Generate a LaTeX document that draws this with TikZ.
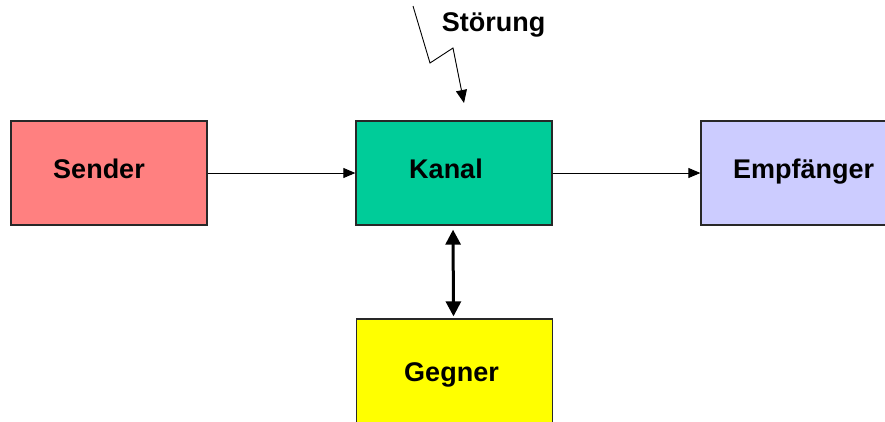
\documentclass[tikz,border=0pt]{standalone}
\usepackage{fontspec}
\setmainfont{Liberation Sans}
\usetikzlibrary{arrows.meta}
\definecolor{senderred}{RGB}{255,128,128}
\definecolor{kanalgreen}{RGB}{0,204,153}
\definecolor{empfblue}{RGB}{204,204,255}
\definecolor{gegneryellow}{RGB}{255,255,0}
\definecolor{boxline}{RGB}{40,40,40}
\tikzset{
  block/.style={draw=boxline, line width=1.3pt, minimum width=196pt, minimum height=104pt, inner sep=0pt},
  lbl/.style={font=\fontsize{27}{31}\selectfont\bfseries, text=black, inner sep=0pt, anchor=base},
  thinarrow/.style={line width=0.9pt, -{Triangle[length=12pt,width=10pt]}},
  thickarrow/.style={line width=3pt, {Triangle[length=15pt,width=15pt]}-{Triangle[length=15pt,width=15pt]}},
}
\begin{document}
\begin{tikzpicture}[x=1pt,y=-1pt]
\useasboundingbox (0,0) rectangle (885,421);
\clip (0,0) rectangle (885,421);
% blocks
\node[block, fill=senderred] (sender) at (109,173) {};
\node[block, fill=kanalgreen] (kanal) at (454,173) {};
\node[block, fill=empfblue] (empf) at (799,173) {};
\node[block, fill=gegneryellow] (gegner) at (454.5,371) {};
% block texts, placed by baseline
\node[lbl] (tsender) at (99,178.5) {Sender};
\node[lbl] (tkanal) at (446,178.5) {Kanal};
\node[lbl] (tempf) at (803.5,178.5) {Empfänger};
\node[lbl] (tgegner) at (451.5,381.5) {Gegner};
\node[lbl] (tstoer) at (493.5,31.5) {Störung};
% signal path
\draw[thinarrow] (sender.east) -- (kanal.west);
\draw[thinarrow] (kanal.east) -- (empf.west);
% channel <-> adversary
\draw[thickarrow, shorten <=4pt, shorten >=2pt] ([xshift=-1pt]kanal.south) -- ([xshift=-1pt]gegner.north);
% interference bolt
\coordinate (b0) at (413,6);
\coordinate (b1) at (430,63);
\coordinate (b2) at (453,48);
\coordinate (b3) at (464,103);
\draw[line width=0.9pt, line join=miter, -{Triangle[length=13pt,width=11pt]}] (b0) -- (b1) -- (b2) -- (b3);
\end{tikzpicture}
\end{document}
